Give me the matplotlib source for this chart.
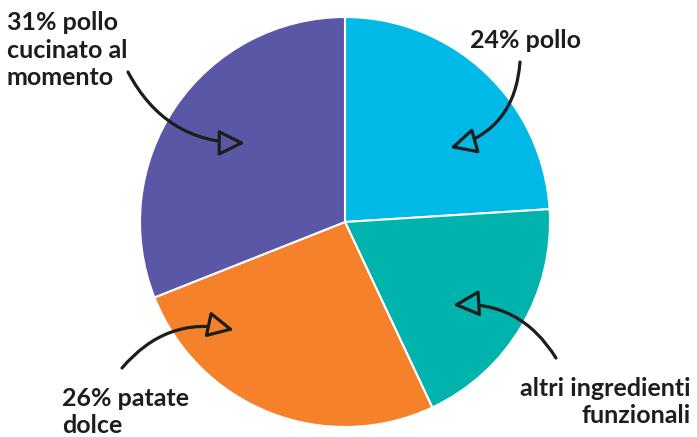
import matplotlib.pyplot as plt

labels = ["24% pollo", "altri ingredienti\nfunzionali", "26% patate\ndolce", "31% pollo\ncucinato al\nmomento"]
values = [24, 19, 26, 31]
colors = ["#00b9e7", "#00b3ac", "#f5822a", "#5a57a6"]

W, H = 697, 437
ink = "#1d1d1b"

fig = plt.figure(figsize=(W / 100, H / 100), dpi=100)
ax = fig.add_axes([0, 0, 1, 1])
ax.pie(values, colors=colors, startangle=90, counterclock=False,
       center=(345, H - 222), radius=205,
       wedgeprops=dict(edgecolor="white", linewidth=1.5))
ax.set_xlim(0, W)
ax.set_ylim(0, H)
ax.set_aspect("equal")
ax.axis("off")

def py(y):
    # pixel row (from top) -> data y
    return H - y

txt = dict(fontsize=18, fontweight="bold", color=ink, family=["Lato", "DejaVu Sans"],
           linespacing=1.25)
ax.text(470, py(40), labels[0], ha="left", va="center", **txt)
ax.text(691, py(402), labels[1], ha="right", va="center", multialignment="right", **txt)
ax.text(62, py(412), labels[2], ha="left", va="center", **txt)
ax.text(7, py(50), labels[3], ha="left", va="center", **txt)

# (start, tip, curvature, slice index)
arrows = [
    ((520, 62), (450, 148), -0.35, 0),
    ((556, 358), (453, 305), 0.3, 1),
    ((122, 368), (234, 330), -0.3, 2),
    ((128, 72), (245, 143), 0.3, 3),
]
for (sx, sy), (tx, ty), rad, k in arrows:
    ax.annotate("", xy=(tx, py(ty)), xytext=(sx, py(sy)),
                arrowprops=dict(arrowstyle="-|>,head_length=0.8,head_width=0.4",
                                connectionstyle="arc3,rad=%s" % rad,
                                lw=2.3, ec=ink, fc=colors[k],
                                mutation_scale=20, shrinkA=0, shrinkB=0,
                                joinstyle="round", capstyle="round"))

fig.savefig("out.png", dpi=100)
